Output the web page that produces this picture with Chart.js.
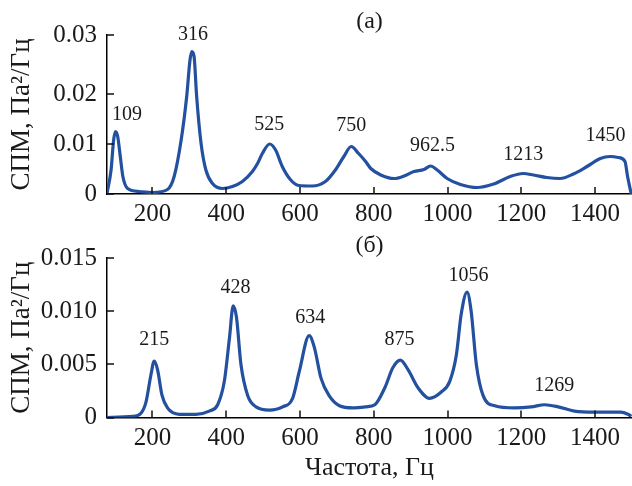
<!DOCTYPE html>
<html>
<head>
<meta charset="utf-8">
<script src="https://cdn.jsdelivr.net/npm/chart.js@4.4.1/dist/chart.umd.min.js"></script>
<style>
  body { margin: 0; background: #fff; }
  #wrap { position: relative; width: 632px; height: 486px; }
  canvas { position: absolute; left: 0; }
  #chartA { top: 0; }
  #chartB { top: 228px; }
</style>
</head>
<body>
<div id="wrap">
  <canvas id="chartA" width="632" height="228"></canvas>
  <canvas id="chartB" width="632" height="258"></canvas>
</div>
<script>
// (а) spectrum
const freqA = [77, 88, 95, 100, 106, 113, 120, 133, 165, 201, 241, 259, 278, 293, 302, 307, 313, 320, 332, 345,
    363, 390, 417, 444, 471, 485, 498, 518, 534, 552, 575, 597, 633, 669, 696, 719, 739, 759, 778, 792,
    819, 855, 882, 909, 936, 954, 972, 999, 1035, 1080, 1125, 1170, 1205, 1233, 1269, 1305, 1341, 1378, 1414, 1441,
    1463, 1481, 1488, 1498]
const spmA = [0.0001, 0.0048, 0.0108, 0.0125, 0.0115, 0.0075, 0.0035, 0.0011, 0.0005, 0.0003, 0.0009, 0.0035, 0.0108, 0.0195, 0.0268, 0.0285, 0.0275, 0.0195, 0.0101, 0.0048,
    0.0021, 0.0011, 0.0015, 0.0025, 0.0045, 0.0061, 0.0081, 0.0100, 0.0088, 0.0055, 0.0028, 0.0017, 0.0016, 0.0025, 0.0048, 0.0075, 0.0095, 0.0081, 0.0065, 0.0051,
    0.0038, 0.0031, 0.0036, 0.0045, 0.0049, 0.0056, 0.0048, 0.0031, 0.0019, 0.0013, 0.0020, 0.0035, 0.0041, 0.0038, 0.0033, 0.0031, 0.0040, 0.0055, 0.0071, 0.0075,
    0.0073, 0.0065, 0.0035, 0.0000]
const peaksA = ['109', '316', '525', '750', '962.5', '1213', '1450']
const peakXA = [131, 310, 517, 739, 959, 1205, 1428]
const peakYA = [0.0158, 0.0318, 0.0138, 0.0136, 0.0096, 0.0079, 0.0117]
const yTicksA = [0, 0.01, 0.02, 0.0318]
const yLabelsA = ['0', '0.01', '0.02', '0.03']

// (б) spectrum
const freqB = [77, 147, 169, 183, 196, 205, 214, 226, 241, 273, 318, 354, 377, 395, 409, 419, 428, 440, 458, 481,
    517, 553, 580, 598, 625, 639, 657, 680, 707, 743, 779, 803, 830, 852, 872, 893, 920, 951, 983, 1006,
    1024, 1037, 1053, 1064, 1078, 1096, 1128, 1182, 1227, 1263, 1300, 1344, 1398, 1469, 1489, 1498]
const spmB = [0, 0.0001, 0.0004, 0.0015, 0.0040, 0.0053, 0.0045, 0.0021, 0.0009, 0.0003, 0.0003, 0.0006, 0.0012, 0.0034, 0.0075, 0.0105, 0.0094, 0.0050, 0.0021, 0.0010,
    0.0007, 0.0010, 0.0018, 0.0043, 0.0077, 0.0066, 0.0037, 0.0020, 0.0011, 0.0009, 0.0010, 0.0012, 0.0028, 0.0047, 0.0054, 0.0045, 0.0028, 0.0018, 0.0024, 0.0034,
    0.0059, 0.0097, 0.0118, 0.0100, 0.0050, 0.0021, 0.0011, 0.0009, 0.0010, 0.0012, 0.0010, 0.0006, 0.0005, 0.0005, 0.0003, 0.0001]
const peaksB = ['215', '428', '634', '875', '1056', '1269']
const peakXB = [205, 425, 628, 870, 1057, 1289]
const peakYB = [0.0073, 0.0122, 0.0094, 0.0073, 0.0133, 0.0030]
const yTicksB = [0, 0.005, 0.010, 0.015]
const yLabelsB = ['0', '0.005', '0.010', '0.015']

const xTicks = [200, 400, 600, 800, 1000, 1200, 1400]

const serif = "'Liberation Serif', 'Times New Roman', serif"
const ink = '#1a1a1a'
const lineBlue = '#23509f'

// peak captions plus the short tick marks that point into the plot
const annotate = {
    id: 'annotate',
    afterDraw(chart) {
        const opts = chart.config.options.plugins.annotate
        const { ctx, chartArea, scales } = chart
        const x = scales.x
        const y = scales.y
        ctx.save()
        ctx.strokeStyle = '#111'
        ctx.lineWidth = 1.5
        ctx.beginPath()
        xTicks.forEach(v => {
            const px = Math.round(x.getPixelForValue(v))
            ctx.moveTo(px, chartArea.bottom)
            ctx.lineTo(px, chartArea.bottom - 7)
        })
        opts.yTicks.forEach(v => {
            const py = Math.round(y.getPixelForValue(v))
            ctx.moveTo(chartArea.left, py)
            ctx.lineTo(chartArea.left + 7, py)
        })
        ctx.stroke()

        ctx.font = `20px ${serif}`
        ctx.fillStyle = ink
        ctx.textAlign = 'center'
        ctx.textBaseline = 'middle'
        opts.texts.forEach((t, i) => {
            ctx.fillText(t, x.getPixelForValue(opts.xs[i]), y.getPixelForValue(opts.ys[i]))
        })
        ctx.restore()
    }
}

function makeChart(canvas, cfg) {
    const points = cfg.freq.map((f, i) => ({ x: f, y: cfg.spm[i] }))
    return new Chart(canvas, {
        type: 'line',
        data: {
            datasets: [{
                data: points,
                borderColor: lineBlue,
                borderWidth: 3.2,
                pointRadius: 0,
                fill: false,
                cubicInterpolationMode: 'monotone',
            }]
        },
        plugins: [annotate],
        options: {
            responsive: false,
            animation: false,
            devicePixelRatio: 1,
            layout: { padding: 0 },
            plugins: {
                legend: { display: false },
                tooltip: { enabled: false },
                title: {
                    display: true,
                    text: cfg.title,
                    fullSize: false,
                    color: ink,
                    font: { family: serif, size: 24, weight: 'normal', lineHeight: 1 },
                    padding: cfg.titlePad,
                },
                annotate: { texts: cfg.peaks, xs: cfg.peakX, ys: cfg.peakY, yTicks: cfg.yTicks },
            },
            scales: {
                x: {
                    type: 'linear',
                    min: 77,
                    max: 1500,
                    afterBuildTicks: (s) => { s.ticks = xTicks.map(v => ({ value: v })) },
                    afterFit: (s) => { s.height = cfg.xHeight },
                    grid: { display: false, drawTicks: false },
                    border: { display: true, color: '#000', width: 1.5 },
                    ticks: {
                        color: ink,
                        font: { family: serif, size: 25 },
                        padding: cfg.xPad,
                        maxRotation: 0,
                        autoSkip: false,
                        callback: (v) => String(v),
                    },
                    title: {
                        display: !!cfg.xTitle,
                        text: cfg.xTitle || '',
                        color: ink,
                        font: { family: serif, size: 26 },
                        padding: { top: 0, bottom: 2.4 },
                    },
                },
                y: {
                    min: 0,
                    max: cfg.yTicks[cfg.yTicks.length - 1],
                    afterBuildTicks: (s) => { s.ticks = cfg.yTicks.map(v => ({ value: v })) },
                    afterFit: (s) => { s.width = 107 },
                    grid: { display: false, drawTicks: false },
                    border: { display: true, color: '#000', width: 1.5 },
                    ticks: {
                        color: ink,
                        font: { family: serif, size: 25 },
                        padding: 10,
                        callback: (v, i) => cfg.yLabels[i],
                    },
                    title: {
                        display: true,
                        text: 'СПМ, Па²/Гц',
                        color: ink,
                        font: { family: serif, size: 27 },
                        padding: { top: 6, bottom: 0 },
                    },
                },
            },
        },
    })
}

makeChart(document.getElementById('chartA'), {
    freq: freqA, spm: spmA, title: '(а)', titlePad: { top: 10, bottom: 1 },
    peaks: peaksA, peakX: peakXA, peakY: peakYA,
    yTicks: yTicksA, yLabels: yLabelsA, xHeight: 34, xPad: 5,
})

makeChart(document.getElementById('chartB'), {
    freq: freqB, spm: spmB, title: '(б)', titlePad: { top: 6, bottom: 0 },
    peaks: peaksB, peakX: peakXB, peakY: peakYB,
    yTicks: yTicksB, yLabels: yLabelsB, xHeight: 68.5, xPad: 6,
    xTitle: 'Частота, Гц',
})
</script>
</body>
</html>
